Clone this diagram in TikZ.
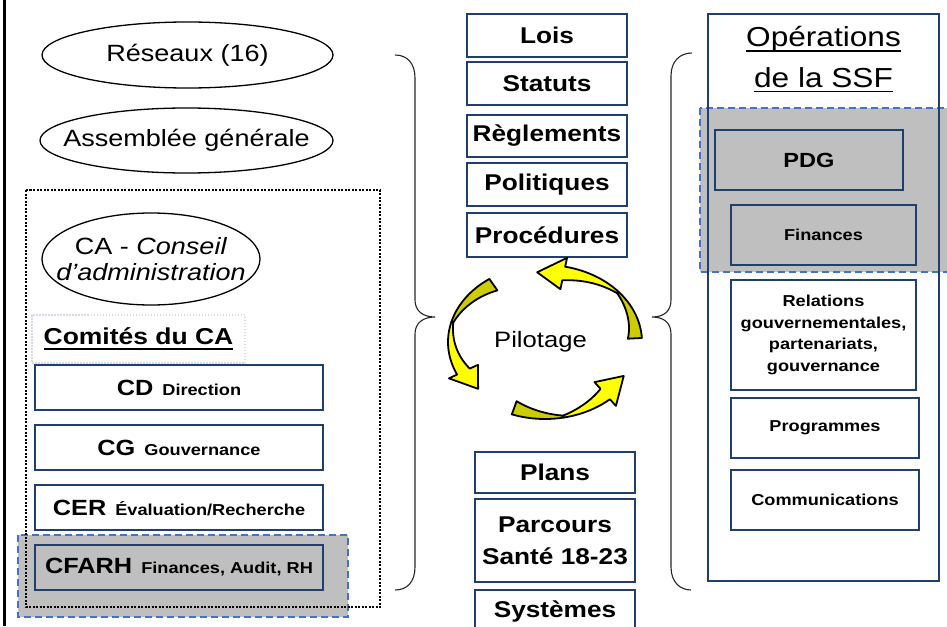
\documentclass[tikz,border=0pt]{standalone}
\usepackage{fontspec}
\setmainfont{Liberation Sans}[FakeStretch=1.15]
\usetikzlibrary{shapes.geometric}

\definecolor{boxblue}{HTML}{1F3F6E}
\definecolor{dashblue}{HTML}{4472C4}
\definecolor{shade}{HTML}{BFBFBF}
\definecolor{faint}{HTML}{D5DBE6}
\definecolor{arrowdark}{HTML}{CCCC00}
\definecolor{arrowlight}{HTML}{FFFF00}

\newsavebox{\ulbox}
\newcommand{\ulx}[1]{\sbox{\ulbox}{#1}\rlap{\rule[-5pt]{\wd\ulbox}{1.5pt}}\usebox{\ulbox}}
\newcommand{\cmte}[2]{{\fontsize{22}{26}\selectfont #1}\hspace{9pt}{\fontsize{15.8}{19}\selectfont #2}}

\begin{document}
\begin{tikzpicture}[x=1pt,y=-1pt,
  oval/.style={draw,ellipse,line width=1.3pt,inner sep=0pt,align=center,font=\fontsize{23.5}{26}\selectfont},
  combox/.style={draw=boxblue,line width=1.5pt,fill=white,minimum width=288pt,minimum height=45pt,inner sep=0pt,font=\bfseries},
  lawbox/.style={draw=boxblue,line width=1.5pt,fill=white,minimum width=160pt,minimum height=43pt,inner sep=0pt,align=center,font=\fontsize{22.8}{32}\selectfont\bfseries},
  opbox/.style={draw=boxblue,line width=1.5pt,fill=white,minimum height=60pt,inner sep=0pt,align=center,font=\fontsize{15.8}{21.7}\selectfont\bfseries},
  shaded/.style={fill=shade,draw=dashblue,line width=1.6pt,dash pattern=on 7pt off 4pt},
  brace/.style={line width=1.1pt,draw=black!85},
  band/.style={draw=black,line width=1.8pt,line join=round}]

  \clip (0,0) rectangle (947,626);
  \draw[line width=2.5pt] (4.5,0) -- (4.5,626);

  % left side: members and board
  \node[oval,minimum width=291pt,minimum height=66pt] (reseaux) at (187.5,55) {\makebox[0pt]{Réseaux (16)}};
  \node[oval,minimum width=293pt,minimum height=65pt] (ag) at (186.5,140.5) {\makebox[0pt]{Assemblée générale}};

  \draw[shaded] (18,535) rectangle (348,617);
  \draw[line width=2pt,dash pattern=on 2pt off 1.5pt] (26,190) rectangle (380,607);

  \node[oval,minimum width=218pt,minimum height=92pt] (ca) at (151,259)
    {\makebox[0pt]{CA - \textit{Conseil}}\\\makebox[0pt]{\textit{d’administration}}};
  \node[draw=faint,line width=1.5pt,dash pattern=on 1.5pt off 1.5pt,minimum width=213pt,minimum height=48pt,
    font=\fontsize{23}{26}\selectfont\bfseries] (comites) at (138.5,339) {\ulx{Comités du CA}};

  \node[combox] (cd) at (179,387.5) {\cmte{CD}{Direction}};
  \node[combox] (cg) at (179,447.5) {\cmte{CG}{Gouvernance}};
  \node[combox] (cer) at (179,507.5) {\cmte{CER}{Évaluation/Recherche}};
  \node[combox,fill=shade] (cfarh) at (179,567.5) {\cmte{CFARH}{Finances, Audit, RH}};

  % braces
  \draw[brace] (395,55) .. controls (407,55) and (415,63) .. (415,78) -- (415,300)
    .. controls (415,311) and (423,317) .. (435,317) .. controls (423,317) and (415,323) .. (415,334)
    -- (415,567) .. controls (415,582) and (407,590) .. (395,590);
  \draw[brace] (692,53) .. controls (680,53) and (671,61) .. (671,76) -- (671,300)
    .. controls (671,311) and (664,317) .. (652,317) .. controls (664,317) and (671,323) .. (671,334)
    -- (671,567) .. controls (671,582) and (680,590) .. (691,590);

  % middle column
  \node[lawbox] (lois) at (547,35.5) {Lois};
  \node[lawbox] (statuts) at (547,83.5) {Statuts};
  \node[lawbox,minimum height=42pt] (reglements) at (547,136) {Règlements};
  \node[lawbox] (politiques) at (547,184.5) {Politiques};
  \node[lawbox,minimum height=44pt] (procedures) at (547,235) {Procédures};

  \node[lawbox,minimum height=41pt] (plans) at (555,472.5) {Plans};
  \node[lawbox,minimum height=83pt] (parcours) at (555,540.5) {Parcours\\Santé 18-23};
  \node[lawbox] (systemes) at (555,611.5) {Systèmes};

  % cycle arrows
  \foreach \sa/\hb/\tp in {125/205/222, 250/312/331, 3/78/95} {
    \pgfmathsetmacro{\md}{(\sa+\hb)/2}
    \filldraw[band,fill=arrowdark]
      plot[domain=\sa:\md,samples=14,variable=\t] ({545+97*cos(\t)},{342-77*sin(\t)})
      -- plot[domain=\md:\sa,samples=14,variable=\t]
         ({545+(83+12*(\t-\sa)/(\md-\sa))*cos(\t)},{342-(63+12*(\t-\sa)/(\md-\sa))*sin(\t)}) -- cycle;
    \filldraw[band,fill=arrowlight]
      plot[domain=\md:\hb,samples=14,variable=\t] ({545+97*cos(\t)},{342-77*sin(\t)})
      -- ({545+106*cos(\hb)},{342-86*sin(\hb)})
      -- ({545+90*cos(\tp)},{342-70*sin(\tp)})
      -- ({545+74*cos(\hb)},{342-54*sin(\hb)})
      -- plot[domain=\hb:\md,samples=14,variable=\t]
         ({545+(83+12*(\hb-\t)/(\hb-\md))*cos(\t)},{342-(63+12*(\hb-\t)/(\hb-\md))*sin(\t)}) -- cycle;
  }
  \node[font=\fontsize{22.3}{26}\selectfont] (pilotage) at (540.5,342) {Pilotage};

  % right side: operations
  \draw[shaded] (700,108) rectangle (955,272);
  \draw[boxblue,line width=2.5pt] (708,14) rectangle (939,581);
  \node[anchor=base,font=\fontsize{27.5}{40}\selectfont] (ops) at (823.5,47) {\ulx{Opérations}};
  \node[anchor=base,font=\fontsize{27.5}{40}\selectfont] (ssf) at (823.5,87) {\ulx{de la SSF}};

  \node[opbox,fill=shade,minimum width=188pt,font=\fontsize{20.5}{24}\selectfont\bfseries] (pdg) at (809,160) {PDG};
  \node[opbox,fill=shade,minimum width=185pt] (finances) at (823.5,235) {Finances};
  \node[opbox,minimum width=185pt,minimum height=110pt] (relations) at (823.5,335)
    {Relations\\gouvernementales,\\partenariats,\\gouvernance};
  \node[opbox,minimum width=188pt] (programmes) at (825,428) {Programmes};
  \node[opbox,minimum width=188pt] (communications) at (825,500) {Communications};

\end{tikzpicture}
\end{document}
